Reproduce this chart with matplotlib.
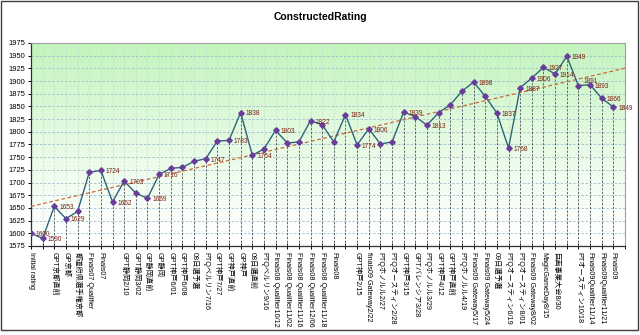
import numpy as np
import matplotlib
matplotlib.use("Agg")
import matplotlib.pyplot as plt
from matplotlib.patches import Rectangle

plt.rcParams["font.family"] = ["Liberation Sans", "Noto Sans CJK JP", "DejaVu Sans"]

# Data ------------------------------------------------------------------------
events = [
    "Initial rating", "", "GPT京都直前", "GP京都", "都道府県選手権京都",
    "Finals07 Qualifier", "Finals07", "", "GPT静岡2/10", "GPT静岡3/02",
    "GP静岡直前", "GP静岡", "GPT神戸6/01", "GPT神戸6/08", "08日選予選",
    "PTQベルリン7/16", "GPT神戸7/27", "GP神戸直前", "GP神戸", "08日選直前",
    "PTQベルリン9/16", "Finals08 Qualifier10/12", "Finals08 Qualifier11/02",
    "Finals08 Qualifier11/16", "Finals08 Qualifier12/06",
    "Finals08 Qualifier11/18", "Finals08", "", "GPT神戸2/15",
    "finals09 Gateway2/22", "PTQホノルル2/27", "PTQオースティン2/28",
    "GPT神戸3/15", "GPTバレンシア3/28", "PTQホノルル3/29", "GPT神戸4/12",
    "GPT神戸直前", "PTQホノルル4/19", "Finals09 Gateway5/17",
    "Finals09 Gateway5/24", "09日選予選", "PTQオースティン6/19",
    "PTQオースティン8/01", "Finals09 Gateway8/02", "MagicGameDay8/15",
    "巨画事業大会8/30", "", "PTオースティン10/18", "Finals09Qualifier11/14",
    "Finals09Qualifier11/21", "Finals09", "",
]

rating = [
    1600, 1590, 1653, 1629, 1643, 1720, 1724, 1662, 1703, 1679,
    1669, 1716, 1728, 1730, 1742, 1747, 1782, 1783, 1838, 1754,
    1766, 1803, 1778, 1780, 1822, 1814, 1780, 1834, 1774, 1806,
    1776, 1780, 1839, 1830, 1813, 1838, 1853, 1880, 1898, 1870,
    1837, 1768, 1887, 1906, 1927, 1914, 1949, 1891, 1893, 1866,
    1849,
]

# points that carry a data label
labelled = [0, 1, 2, 3, 6, 7, 8, 10, 11, 15, 17, 18, 19, 21, 24, 27, 28, 29,
            32, 34, 38, 40, 41, 42, 43, 44, 45, 46, 47, 48, 49, 50]

yticks = list(range(1575, 1976, 25))

# Figure ----------------------------------------------------------------------
fig = plt.figure(figsize=(6.4, 3.35), dpi=100)
ax = fig.add_axes([31 / 640, 1 - 246 / 335, 594 / 640, 203 / 335])

idx = np.arange(len(rating))
ncat = len(events)

# green -> white background
grad = np.linspace(0, 1, 256) ** 1.3
top = np.array([194, 244, 188]) / 255
bg = 1 - grad[:, None] * (1 - top[None, :])
ax.imshow(bg[:, None, :], extent=[0, ncat - 1, 1575, 1975], aspect="auto",
          origin="lower", zorder=0)

# grid
for yv in yticks[1:-1]:
    ax.axhline(yv, color="#9fbfd0", lw=0.6, ls=(0, (3, 2)), zorder=1)
for i in range(1, ncat - 1):
    ax.axvline(i, color="#c8d8d0", lw=0.5, ls=(0, (3, 2)), zorder=1)

# drop lines
ax.vlines(idx, 1575, rating, colors="#4a5058", lw=0.6, ls=(0, (2.5, 2)), zorder=2)

# trend line
k, b = np.polyfit(idx, rating, 1)
xt = np.array([0, ncat - 1])
ax.plot(xt, k * xt + b, color="#c86a3a", lw=0.9, ls=(0, (3, 2)), zorder=3)

ax.plot(idx, rating, color="#2f6478", lw=1.0, zorder=4,
        marker="D", ms=2.8, mfc="#6a3d9a", mec="#6a3d9a")

for i in labelled:
    dy = 3 if i == 47 else -1  # keep 1891 clear of 1893
    ax.annotate(str(rating[i]), (idx[i], rating[i]), xytext=(3.5, dy),
                textcoords="offset points", ha="left", va="center",
                fontsize=4.7, color="#7a1e10", zorder=5)

ax.set_xlim(0, ncat - 1)
ax.set_ylim(1575, 1975)
ax.set_yticks(yticks)
ax.set_yticklabels([str(v) for v in yticks], fontsize=5.4)
ax.set_xticks(np.arange(ncat))
ax.set_xticklabels(events, rotation=-90, fontsize=5.2, ha="center", va="top")
ax.tick_params(axis="x", direction="inout", length=5, width=0.7, pad=2)
ax.tick_params(axis="y", direction="out", length=2, width=0.7, pad=2)

for side in ["top", "right"]:
    ax.spines[side].set_color("#a0a0a0")
    ax.spines[side].set_linewidth(0.8)
for side in ["left", "bottom"]:
    ax.spines[side].set_color("#303030")
    ax.spines[side].set_linewidth(0.9)

fig.text(0.5, 1 - 17 / 335, "ConstructedRating", ha="center", va="center",
         fontsize=7.5, fontweight="bold")

fig.patches.append(Rectangle((0.5 / 640, 1 - 330 / 335), 637 / 640, 329 / 335,
                             transform=fig.transFigure, fill=False,
                             ec="#404040", lw=1.0))

fig.savefig("out.png", dpi=100)
